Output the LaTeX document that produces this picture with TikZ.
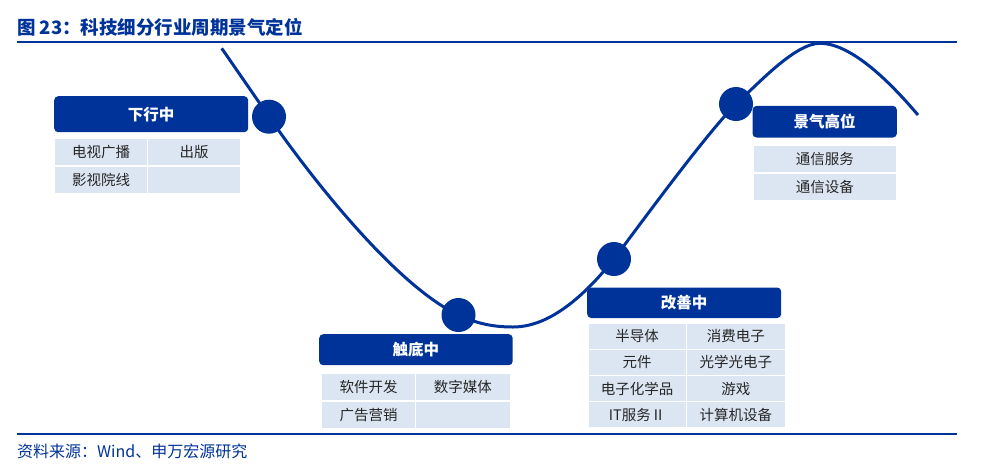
\documentclass[tikz,border=0pt]{standalone}
\usepackage{fontspec}
\setmainfont{Noto Sans CJK SC}
\definecolor{swblue}{RGB}{0,51,153}
\definecolor{swcell}{RGB}{220,230,242}
\begin{document}
\begin{tikzpicture}[x=1pt,y=-1pt,
  phase/.style={fill=swblue,rounded corners=4pt,text=white,inner sep=0pt,
    anchor=north west,font=\fontsize{15.5}{16}\selectfont\bfseries},
  cell/.style={fill=swcell,text=black!85,inner sep=0pt,anchor=north west,
    font=\fontsize{14.5}{15}\selectfont},
  dot/.style={circle,fill=swblue,minimum size=34pt,inner sep=0pt}]
  \useasboundingbox (0,0) rectangle (981,469);

  \node[anchor=base west,inner sep=0pt,text=swblue,
    font=\fontsize{18.5}{20}\selectfont\bfseries] (title) at (17,34.5)
    {图 23：科技细分行业周期景气定位};
  \draw[swblue,line width=2pt] (17,41.5) -- (957,41.5);
  \draw[swblue,line width=2pt] (17,434) -- (957,434);
  \node[anchor=base west,inner sep=0pt,text=swblue,
    font=\fontsize{16}{17}\selectfont] (source) at (17,457.5)
    {资料来源：Wind、申万宏源研究};

  \coordinate (start) at (221.7,48.3);
  \coordinate (k1) at (269,116.7);
  \coordinate (k2) at (458.5,315);
  \coordinate (trough) at (513,327);
  \coordinate (k3) at (614,259);
  \coordinate (k4) at (736,104);
  \coordinate (peak) at (820,43.3);
  \coordinate (stop) at (918,115);
  \draw[swblue,line width=3pt] (start) -- (k1)
    .. controls (308.7,174.4) and (395,285.3) .. (k2)
    .. controls (476.6,323.5) and (493,327) .. (trough)
    .. controls (553,327) and (589,290) .. (k3)
    .. controls (641,223) and (706,134) .. (k4)
    .. controls (758,84) and (795,43.3) .. (peak)
    .. controls (855,43.3) and (898.5,92.2) .. (stop);
  \node[dot] (down) at (k1) {};
  \node[dot] (bottom) at (k2) {};
  \node[dot] (better) at (k3) {};
  \node[dot] (high) at (k4) {};

  \begin{scope}[shift={(54,96)}]
    \node[phase,minimum width=194pt,minimum height=36pt] (downhead) at (0,0) {下行中};
    \begin{scope}[cell/.append style={minimum width=92pt,minimum height=26.5pt}]
      \node[cell] (down11) at (1,42.5) {电视广播};
      \node[cell] (down12) at (94,42.5) {出版};
      \node[cell] (down21) at (1,70.5) {影视院线};
      \node[cell] (down22) at (94,70.5) {};
    \end{scope}
  \end{scope}

  \begin{scope}[shift={(319,334)}]
    \node[phase,minimum width=193.5pt,minimum height=31pt] (bottomhead) at (0,0) {触底中};
    \begin{scope}[cell/.append style={minimum width=93.3pt,minimum height=26pt}]
      \node[cell] (bottom11) at (2.7,40) {软件开发};
      \node[cell] (bottom12) at (97,40) {数字媒体};
      \node[cell] (bottom21) at (2.7,67.7) {广告营销};
      \node[cell] (bottom22) at (97,67.7) {};
    \end{scope}
  \end{scope}

  \begin{scope}[shift={(587,287.3)}]
    \node[phase,minimum width=194pt,minimum height=30.5pt] (betterhead) at (0,0) {改善中};
    \begin{scope}[cell/.append style={minimum width=97.4pt,minimum height=25pt}]
      \node[cell] (better11) at (1.3,36) {半导体};
      \node[cell] (better12) at (100,36) {消费电子};
      \node[cell] (better21) at (1.3,62.3) {元件};
      \node[cell] (better22) at (100,62.3) {光学光电子};
      \node[cell] (better31) at (1.3,88.6) {电子化学品};
      \node[cell] (better32) at (100,88.6) {游戏};
      \node[cell] (better41) at (1.3,114.9) {IT服务Ⅱ};
      \node[cell] (better42) at (100,114.9) {计算机设备};
    \end{scope}
  \end{scope}

  \begin{scope}[shift={(752.3,105.7)}]
    \node[phase,minimum width=144.4pt,minimum height=31.6pt] (highhead) at (0,0) {景气高位};
    \begin{scope}[cell/.append style={minimum width=142.7pt,minimum height=26pt}]
      \node[cell] (high1) at (1,40.3) {通信服务};
      \node[cell] (high2) at (1,68.3) {通信设备};
    \end{scope}
  \end{scope}
\end{tikzpicture}
\end{document}
